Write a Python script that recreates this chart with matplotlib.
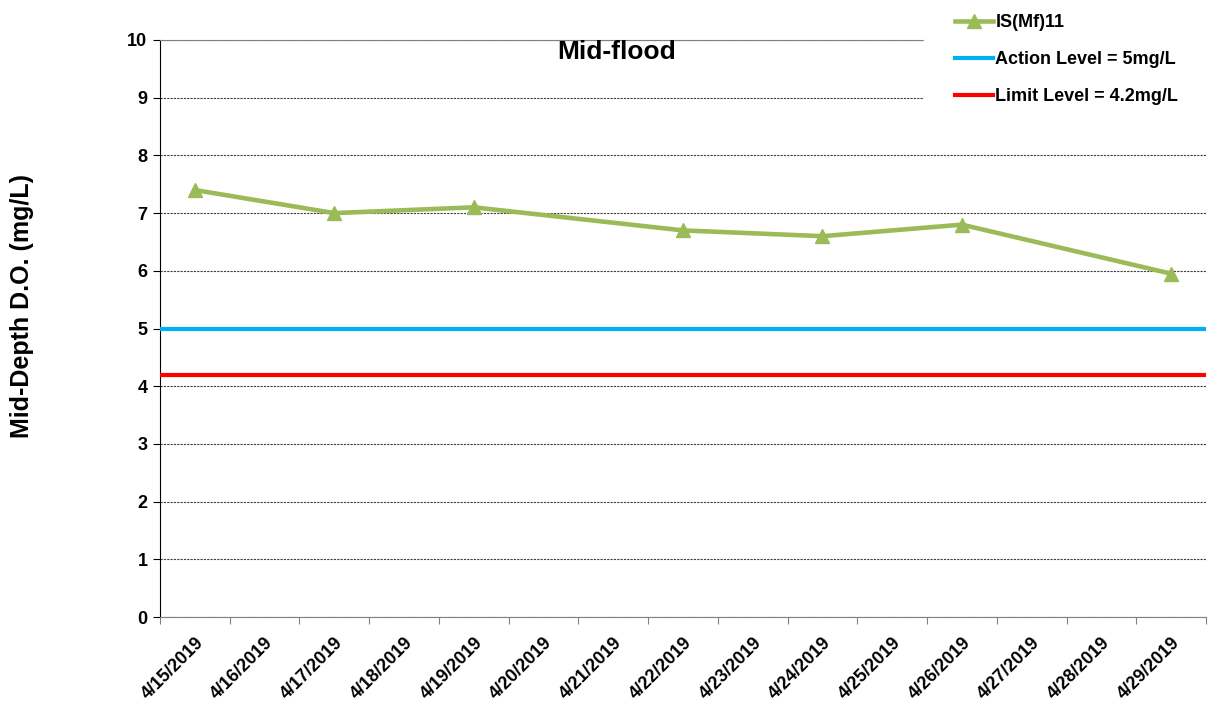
import matplotlib
matplotlib.use('Agg')
import matplotlib.pyplot as plt

plt.rcParams['font.family'] = 'Liberation Sans'
plt.rcParams['font.weight'] = 'bold'

dates = ['4/15/2019', '4/16/2019', '4/17/2019', '4/18/2019', '4/19/2019',
         '4/20/2019', '4/21/2019', '4/22/2019', '4/23/2019', '4/24/2019',
         '4/25/2019', '4/26/2019', '4/27/2019', '4/28/2019', '4/29/2019']
sample_dates = ['4/15/2019', '4/17/2019', '4/19/2019', '4/22/2019',
                '4/24/2019', '4/26/2019', '4/29/2019']
do_values = [7.4, 7.0, 7.1, 6.7, 6.6, 6.8, 5.95]
action_level = 5.0
limit_level = 4.2

fig = plt.figure(figsize=(12.08, 7.02), dpi=100)
ax = fig.add_axes([160 / 1208, 85 / 702, 1046 / 1208, 577 / 702])

xs = [dates.index(d) for d in sample_dates]
ax.plot(xs, do_values, color='#9BBB59', lw=3.3, marker='^', ms=10,
        label='IS(Mf)11', zorder=4)
ax.axhline(action_level, color='#00B0F0', lw=3, label='Action Level = 5mg/L', zorder=3)
ax.axhline(limit_level, color='#FF0000', lw=3, label='Limit Level = 4.2mg/L', zorder=3)

ax.set_xlim(-0.5, len(dates) - 0.5)
ax.set_ylim(0, 10)
ax.set_yticks(range(0, 11))
ax.yaxis.grid(True, linestyle=(0, (2, 1)), color='#404040', lw=0.8)
ax.set_axisbelow(True)

# category axis: tick marks on boundaries, labels at centres
ax.set_xticks([i - 0.5 for i in range(len(dates) + 1)])
ax.set_xticklabels([])
ax.set_xticks(range(len(dates)), minor=True)
ax.set_xticklabels(dates, minor=True, rotation=45, ha='right',
                   rotation_mode='anchor', fontsize=13, fontweight='bold')
ax.tick_params(axis='x', which='minor', length=0, pad=12)
ax.tick_params(axis='x', which='major', length=5, color='#808080')
ax.tick_params(axis='y', length=5, labelsize=13, pad=4)

for s in ['top', 'bottom']:
    ax.spines[s].set_color('#808080')
ax.spines['right'].set_visible(False)
ax.spines['left'].set_color('black')

fig.text(617 / 1208, 1 - 52 / 702, 'Mid-flood', ha='center', va='center',
         fontsize=19, fontweight='bold')
fig.text(22 / 1208, 1 - 306 / 702, 'Mid-Depth D.O. (mg/L)', ha='center',
         va='center', rotation=90, fontsize=18, fontweight='bold')

leg = fig.legend(loc='upper left', bbox_to_anchor=(924 / 1208, 1.024),
                 frameon=True, fontsize=13, handlelength=2.1,
                 handletextpad=0.15, labelspacing=1.12, borderaxespad=0,
                 borderpad=1.7)
leg.get_frame().set_edgecolor('white')
leg.get_frame().set_facecolor('white')
leg.get_frame().set_alpha(1)
leg.get_frame().set_boxstyle('square', pad=0)
leg.set_zorder(10)

fig.savefig('out.png', dpi=100)
